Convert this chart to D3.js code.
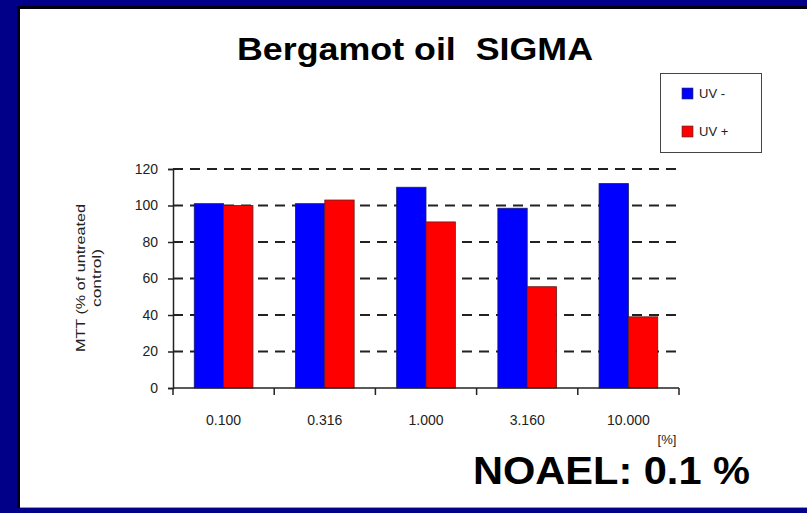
<!DOCTYPE html>
<html>
<head>
<meta charset="utf-8">
<script src="https://cdn.jsdelivr.net/npm/d3@7"></script>
<style>
html,body{margin:0;padding:0;background:#000088;}
svg{display:block;}
text{font-family:"Liberation Sans",Arial,sans-serif;white-space:pre;}
</style>
</head>
<body>
<script>
const categories = ["0.100", "0.316", "1.000", "3.160", "10.000"];
const seriesNames = ["UV -", "UV +"];
const uvMinus = [101, 101, 110, 98.5, 112];
const uvPlus = [100, 103, 91, 55.5, 39];
const yTicks = [0, 20, 40, 60, 80, 100, 120];
const colors = ["#0000FF", "#FF0000"];

const W = 807, H = 513;
const svg = d3.select("body").append("svg").attr("width", W).attr("height", H);

svg.append("rect").attr("width", W).attr("height", H).attr("fill", "#000088");
svg.append("rect").attr("x", 17).attr("y", 6).attr("width", W - 17).attr("height", 502).attr("fill", "#000010");
svg.append("rect").attr("x", 20).attr("y", 9).attr("width", W - 20).attr("height", 498).attr("fill", "#ffffff");
svg.append("line").attr("x1", 20).attr("x2", W).attr("y1", 507.5).attr("y2", 507.5).attr("stroke", "#9a9a9a").attr("stroke-width", 1);

const x = d3.scaleBand().domain(categories).range([173, 679]).paddingInner(0.42).paddingOuter(0.21);
const xs = d3.scaleBand().domain(seriesNames).range([0, x.bandwidth()]);
const y = d3.scaleLinear().domain([0, 120]).range([388, 169]);

// gridlines
svg.append("g").selectAll("line").data(yTicks.filter(d => d > 0)).join("line")
  .attr("x1", 173).attr("x2", 679)
  .attr("y1", d => y(d)).attr("y2", d => y(d))
  .attr("stroke", "#222").attr("stroke-width", 2).attr("stroke-dasharray", "10,7");

// bars
const data = categories.map((c, i) => ({c, vals: [uvMinus[i], uvPlus[i]]}));
const g = svg.append("g").selectAll("g").data(data).join("g")
  .attr("transform", d => `translate(${x(d.c)},0)`);
g.selectAll("rect").data(d => d.vals.map((v, j) => ({v, s: seriesNames[j], j}))).join("rect")
  .attr("x", d => xs(d.s)).attr("width", xs.bandwidth())
  .attr("y", d => y(d.v)).attr("height", d => y(0) - y(d.v))
  .attr("fill", d => colors[d.j]).attr("stroke", d => d.j === 0 ? "#1a1a66" : "#661a1a").attr("stroke-width", 0.8);

// y axis
const yAxis = d3.axisLeft(y).tickValues(yTicks).tickSize(5).tickPadding(10);
const ya = svg.append("g").attr("transform", "translate(173,0)").call(yAxis);
ya.select(".domain").attr("stroke", "#222").attr("stroke-width", 1.5);
ya.selectAll(".tick line").attr("stroke", "#222").attr("stroke-width", 1.5);
ya.selectAll(".tick text").attr("font-size", 14).attr("fill", "#222").attr("font-family", "Liberation Sans, Arial, sans-serif");

// x axis
const xTickPositions = d3.range(categories.length + 1).map(i => 173 + i * x.step());
svg.append("line").attr("x1", 173).attr("x2", 679).attr("y1", y(0)).attr("y2", y(0)).attr("stroke", "#222").attr("stroke-width", 1.5);
svg.append("g").selectAll("line").data(xTickPositions).join("line")
  .attr("x1", d => d).attr("x2", d => d).attr("y1", y(0)).attr("y2", y(0) + 7)
  .attr("stroke", "#222").attr("stroke-width", 1.5);
svg.append("g").selectAll("text").data(categories).join("text")
  .attr("x", d => x(d) + x.bandwidth() / 2).attr("y", 425)
  .attr("text-anchor", "middle").attr("font-size", 14).attr("fill", "#222").text(d => d);
svg.append("text").attr("x", 667).attr("y", 444).attr("text-anchor", "middle").attr("font-size", 13).attr("fill", "#222").text("[%]");

// y label
svg.append("text").attr("transform", "translate(85,278) rotate(-90)").attr("text-anchor", "middle")
  .attr("font-size", 12).attr("fill", "#222").attr("textLength", 148).attr("lengthAdjust", "spacingAndGlyphs").text("MTT (% of untreated");
svg.append("text").attr("transform", "translate(101,278) rotate(-90)").attr("text-anchor", "middle")
  .attr("font-size", 12).attr("fill", "#222").attr("textLength", 58).attr("lengthAdjust", "spacingAndGlyphs").text("control)");

// title
svg.append("text").attr("x", 237).attr("y", 60).attr("font-size", 31).attr("font-weight", "bold")
  .attr("fill", "#000").attr("textLength", 356).attr("lengthAdjust", "spacingAndGlyphs").text("Bergamot oil  SIGMA");

// legend
const lg = svg.append("g");
lg.append("rect").attr("x", 660.5).attr("y", 73.5).attr("width", 101).attr("height", 79).attr("fill", "#fff").attr("stroke", "#444").attr("stroke-width", 1);
seriesNames.forEach((s, i) => {
  lg.append("rect").attr("x", 682).attr("y", 88 + i * 38).attr("width", 11).attr("height", 11)
    .attr("fill", colors[i]).attr("stroke", "#333").attr("stroke-width", 0.6);
  lg.append("text").attr("x", 699).attr("y", 98 + i * 38).attr("font-size", 13).attr("fill", "#222").text(s);
});

// annotation
svg.append("text").attr("x", 473).attr("y", 484).attr("font-size", 39).attr("font-weight", "bold")
  .attr("fill", "#000").attr("textLength", 277).attr("lengthAdjust", "spacingAndGlyphs").text("NOAEL: 0.1 %");
</script>
</body>
</html>
